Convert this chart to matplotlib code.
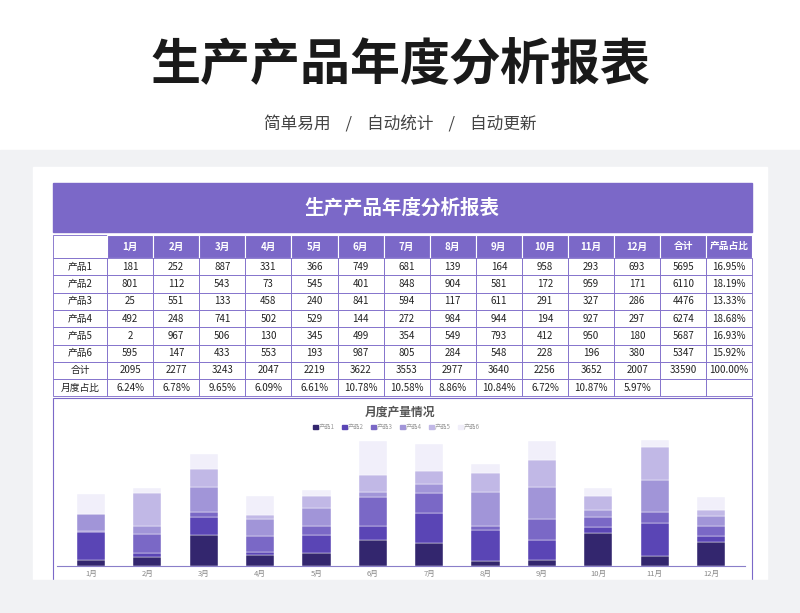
import matplotlib
matplotlib.use("Agg")
import matplotlib.pyplot as plt
from matplotlib.patches import Rectangle
import numpy as np

plt.rcParams["font.family"] = ["Noto Sans CJK JP", "Noto Sans CJK SC", "DejaVu Sans"]

months = ["1月","2月","3月","4月","5月","6月","7月","8月","9月","10月","11月","12月"]
products = ["产品1","产品2","产品3","产品4","产品5","产品6"]
p1 = [181,252,887,331,366,749,681,139,164,958,293,693]
p2 = [801,112,543,73,545,401,848,904,581,172,959,171]
p3 = [25,551,133,458,240,841,594,117,611,291,327,286]
p4 = [492,248,741,502,529,144,272,984,944,194,927,297]
p5 = [2,967,506,130,345,499,354,549,793,412,950,180]
p6 = [595,147,433,553,193,987,805,284,548,228,196,380]
series = [p1,p2,p3,p4,p5,p6]
row_totals = ["5695","6110","4476","6274","5687","5347"]
row_shares = ["16.95%","18.19%","13.33%","18.68%","16.93%","15.92%"]
month_totals = ["2095","2277","3243","2047","2219","3622","3553","2977","3640","2256","3652","2007"]
grand_total = "33590"
month_shares = ["6.24%","6.78%","9.65%","6.09%","6.61%","10.78%","10.58%","8.86%","10.84%","6.72%","10.87%","5.97%"]
colors = ["#33266e","#5a45b5","#7a68c6","#a195d8","#c1b8e6","#f1effa"]

W, H = 800, 613
fig = plt.figure(figsize=(8, 6.13), dpi=100)
bg = fig.add_axes([0, 0, 1, 1])
bg.set_xlim(0, W); bg.set_ylim(H, 0); bg.axis("off")
bg.add_patch(Rectangle((0, 0), W, H, color="#ffffff"))
bg.add_patch(Rectangle((0, 150), W, H-150, color="#f1f2f4"))
bg.text(400, 66, "生产产品年度分析报表", ha="center", va="center", fontsize=36, fontweight="bold", color="#1a1a1a")
bg.text(400, 125, "简单易用    /    自动统计    /    自动更新", ha="center", va="center", fontsize=12, color="#444444")
bg.add_patch(Rectangle((33, 167), 734, 413, color="white"))
bg.add_patch(Rectangle((53, 183), 699, 49, color="#7b68c8"))
bg.text(402, 208, "生产产品年度分析报表", ha="center", va="center", fontsize=14, fontweight="bold", color="white")

cols = [53, 107] + [107 + 46.1*(i+1) for i in range(12)]
cols = cols + [cols[-1] + 46, 752]
lc = "#7b68c8"
header = [""] + months + ["合计", "产品占比"]
rows = []
for i, p in enumerate(products):
    rows.append([p] + [str(v) for v in series[i]] + [row_totals[i], row_shares[i]])
rows.append(["合计"] + month_totals + [grand_total, "100.00%"])
rows.append(["月度占比"] + month_shares + ["", ""])
allrows = [header] + rows
y0 = 235
for r, row in enumerate(allrows):
    rh = 23 if r == 0 else 17.3
    for c in range(len(cols)-1):
        x0, x1 = cols[c], cols[c+1]
        if r == 0 and c > 0:
            bg.add_patch(Rectangle((x0, y0), x1-x0, rh, facecolor="#7b68c8", edgecolor="white", lw=0.8))
            bg.text((x0+x1)/2, y0+rh/2, row[c], ha="center", va="center", fontsize=7, color="white", fontweight="bold")
        else:
            bg.add_patch(Rectangle((x0, y0), x1-x0, rh, facecolor="white", edgecolor=lc, lw=0.6))
            bg.text((x0+x1)/2, y0+rh/2, row[c], ha="center", va="center", fontsize=7, color="#222222")
    y0 += rh

bg.add_patch(Rectangle((53, 398), 699, 190, facecolor="white", edgecolor=lc, lw=0.8))
bg.text(400, 412, "月度产量情况", ha="center", va="center", fontsize=8.5, fontweight="bold", color="#555555")
lx = 313
for i, p in enumerate(products):
    bg.add_patch(Rectangle((lx, 424.5), 4.5, 4.5, color=colors[i]))
    bg.text(lx+6, 427, p, ha="left", va="center", fontsize=4.5, color="#999999")
    lx += 29

ax = fig.add_axes([57/W, 1-566/H, 688/W, 136/H])
x = np.arange(len(months))
bottom = np.zeros(len(months))
for i, s in enumerate(series):
    ax.bar(x, s, width=0.5, bottom=bottom, color=colors[i], edgecolor="white", linewidth=0.3)
    bottom += np.array(s)
ax.set_ylim(0, 3950)
ax.set_xlim(-0.6, 11.6)
ax.set_facecolor("none")
ax.set_yticks([])
for sp in ["top", "left", "right"]:
    ax.spines[sp].set_visible(False)
ax.spines["bottom"].set_color("#8a7fc9")
ax.set_xticks(x)
ax.set_xticklabels(months, fontsize=5.5, color="#888888")
ax.tick_params(axis="x", length=0, pad=3)
bg2 = fig.add_axes([0, 0, 1, 1], zorder=10)
bg2.set_xlim(0, W); bg2.set_ylim(H, 0); bg2.axis("off")
bg2.add_patch(Rectangle((0, 580), W, 33, color="#f1f2f4"))
fig.savefig("out.png", dpi=100)
